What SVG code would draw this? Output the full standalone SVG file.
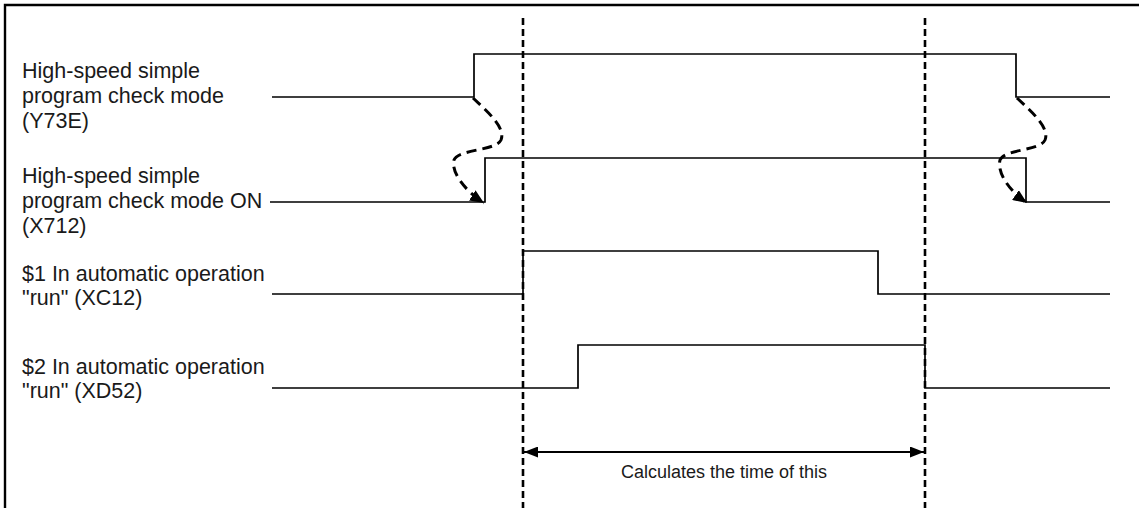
<svg xmlns="http://www.w3.org/2000/svg" width="1139" height="508" viewBox="0 0 1139 508">
<style>
.lbl{font-family:"Liberation Sans",Arial,sans-serif;font-size:21.5px;fill:#1a1a1a}
.note{font-family:"Liberation Sans",Arial,sans-serif;font-size:18px;fill:#1a1a1a}
.sig{fill:none;stroke:#000;stroke-width:1.7}
.vdash{fill:none;stroke:#000;stroke-width:2.6;stroke-dasharray:7 4}
.cdash{fill:none;stroke:#000;stroke-width:3;stroke-dasharray:10 6}
</style>
<defs>
<marker id="ah" viewBox="0 0 14 12" refX="14" refY="6" markerWidth="14" markerHeight="12" markerUnits="userSpaceOnUse" orient="auto">
<path d="M0,0 L14,6 L0,12 Z" fill="#000"/>
</marker>
<marker id="ah2" viewBox="0 0 14 11" refX="14" refY="5.5" markerWidth="14" markerHeight="11" markerUnits="userSpaceOnUse" orient="auto-start-reverse">
<path d="M0,0 L14,5.5 L0,11 Z" fill="#000"/>
</marker>
</defs>
<rect width="1139" height="508" fill="#fff"/>
<path d="M5,508 V5 H1139" fill="none" stroke="#000" stroke-width="2.4"/>

<g id="sig-y73e">
<text class="lbl" x="22" y="78">High-speed simple</text>
<text class="lbl" x="22" y="103">program check mode</text>
<text class="lbl" x="22" y="128">(Y73E)</text>
<path class="sig" d="M272,97 H474 V54 H1016 V97 H1110"/>
</g>
<g id="sig-x712">
<text class="lbl" x="22" y="183">High-speed simple</text>
<text class="lbl" x="22" y="208">program check mode ON</text>
<text class="lbl" x="22" y="233">(X712)</text>
<path class="sig" d="M270,202 H485 V158 H1026 V202 H1110"/>
</g>
<g id="sig-xc12">
<text class="lbl" x="22" y="281">$1 In automatic operation</text>
<text class="lbl" x="22" y="305">"run" (XC12)</text>
<path class="sig" d="M272,294 H523 V251 H878 V294 H1110"/>
</g>
<g id="sig-xd52">
<text class="lbl" x="22" y="374">$2 In automatic operation</text>
<text class="lbl" x="22" y="398">"run" (XD52)</text>
<path class="sig" d="M272,388 H578 V345 H925 V388 H1110"/>
</g>

<g id="connectors">
<path class="vdash" d="M523,18 V508"/>
<path class="vdash" d="M925,18 V508"/>
<path class="cdash" d="M473,98 C488,112 506,128 501,140 C496,151 458,149 454,160 C451,172 464,190 484,203" marker-end="url(#ah)"/>
<path class="cdash" d="M1017,98 C1032,112 1050,128 1045,140 C1040,151 1004,149 1000,160 C997,172 1008,190 1027,203" marker-end="url(#ah)"/>
<path d="M524,452 H924" fill="none" stroke="#000" stroke-width="2.2" marker-start="url(#ah2)" marker-end="url(#ah2)"/>
</g>
<g id="note">
<text class="note" x="724" y="478" text-anchor="middle">Calculates the time of this</text>
</g>
</svg>
